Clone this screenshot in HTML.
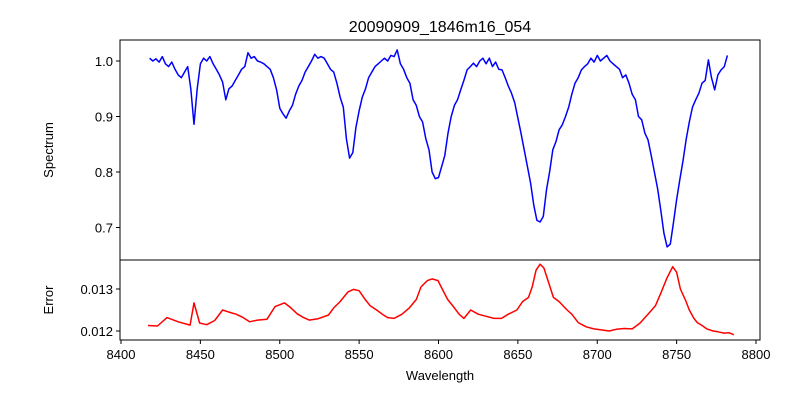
<!DOCTYPE html>
<html><head><meta charset="utf-8">
<style>
body{margin:0;background:#fff;}
svg{display:block;font-family:"Liberation Sans","DejaVu Sans",sans-serif;}
</style></head>
<body>
<svg id="chart" width="800" height="400" viewBox="0 0 800 400">
  <rect width="800" height="400" fill="#fff"/>
  <text x="440" y="32" font-size="16" text-anchor="middle">20090909_1846m16_054</text>
  <g id="gtop"></g>
  <g id="gbot"></g>
  <text x="440" y="380" font-size="13" text-anchor="middle">Wavelength</text>
  <text x="0" y="0" font-size="13" text-anchor="middle" transform="translate(53,150) rotate(-90)">Spectrum</text>
  <text x="0" y="0" font-size="13" text-anchor="middle" transform="translate(53,300) rotate(-90)">Error</text>
</svg>
<script>
const specWave = [8418,8420,8422,8424,8426,8428,8430,8432,8434,8436,8438,8440,8442,8444,8446,8448,8450,8452,8454,8456,8458,8460,8462,8464,8466,8468,8470,8472,8474,8476,8478,8480,8482,8484,8486,8488,8490,8492,8494,8496,8498,8500,8502,8504,8506,8508,8510,8512,8514,8516,8518,8520,8522,8524,8526,8528,8530,8532,8534,8536,8538,8540,8542,8544,8546,8548,8550,8552,8554,8556,8558,8560,8562,8564,8566,8568,8570,8572,8574,8576,8578,8580,8582,8584,8586,8588,8590,8592,8594,8596,8598,8600,8602,8604,8606,8608,8610,8612,8614,8616,8618,8620,8622,8624,8626,8628,8630,8632,8634,8636,8638,8640,8642,8644,8646,8648,8650,8652,8654,8656,8658,8660,8662,8664,8666,8668,8670,8672,8674,8676,8678,8680,8682,8684,8686,8688,8690,8692,8694,8696,8698,8700,8702,8704,8706,8708,8710,8712,8714,8716,8718,8720,8722,8724,8726,8728,8730,8732,8734,8736,8738,8740,8742,8744,8746,8748,8750,8752,8754,8756,8758,8760,8762,8764,8766,8768,8770,8772,8774,8776,8778,8780,8782,8784,8785];
const specFlux = [1.005,1.0,1.004,0.998,1.008,0.995,0.99,0.998,0.985,0.975,0.97,0.98,0.99,0.95,0.886,0.95,0.995,1.005,1.0,1.008,0.995,0.985,0.975,0.962,0.93,0.95,0.955,0.965,0.975,0.985,0.99,1.015,1.005,1.008,1.0,0.998,0.995,0.99,0.985,0.97,0.948,0.915,0.905,0.897,0.91,0.92,0.94,0.955,0.965,0.98,0.99,1.0,1.012,1.005,1.008,1.005,0.995,0.985,0.98,0.96,0.935,0.917,0.86,0.825,0.835,0.88,0.91,0.935,0.95,0.97,0.98,0.99,0.995,1.0,1.005,1.0,1.01,1.008,1.02,0.995,0.985,0.97,0.96,0.93,0.92,0.9,0.89,0.86,0.84,0.8,0.788,0.79,0.81,0.83,0.87,0.9,0.92,0.93,0.948,0.965,0.984,0.99,0.996,0.99,1.0,1.005,0.995,1.005,0.99,0.998,0.985,0.984,0.97,0.955,0.942,0.925,0.897,0.87,0.84,0.81,0.78,0.74,0.713,0.71,0.72,0.768,0.8,0.84,0.855,0.876,0.885,0.9,0.917,0.94,0.96,0.97,0.984,0.99,0.995,1.005,0.998,1.01,1.0,1.005,1.01,1.0,0.995,0.99,0.985,0.97,0.975,0.96,0.94,0.93,0.9,0.894,0.87,0.858,0.83,0.8,0.77,0.731,0.69,0.665,0.67,0.708,0.75,0.786,0.82,0.858,0.89,0.917,0.93,0.942,0.96,0.965,1.002,0.97,0.948,0.975,0.984,0.99,1.01];
const errWave = [8417,8423,8429,8436,8443.5,8446,8449.5,8454,8459,8464,8468,8472.5,8477,8481,8486,8492,8497,8503,8507,8511,8515,8518.6,8524,8530.7,8534,8538,8543,8546.4,8550,8554,8557,8561,8564.6,8568,8572,8577,8581.6,8586,8589,8593,8596,8599.7,8603,8605.8,8610,8613,8616,8620.3,8625,8630,8635,8639.7,8644,8649.4,8653,8656.7,8659,8661.5,8664,8666.4,8669,8672.4,8676,8681,8684,8688,8693,8697.9,8702,8707.5,8712,8717,8722,8727,8732,8736.6,8740,8743.9,8747.5,8750,8752.4,8756,8758,8760.9,8763,8765.7,8769,8773,8776,8780,8783,8786];
const errVal = [0.01213,0.01212,0.01232,0.01222,0.01214,0.01267,0.01219,0.01215,0.01225,0.0125,0.01245,0.0124,0.01232,0.01222,0.01226,0.01228,0.01258,0.01267,0.01255,0.01241,0.01232,0.01226,0.01229,0.01238,0.01255,0.0127,0.01293,0.01299,0.01296,0.01274,0.0126,0.0125,0.0124,0.01232,0.0123,0.0124,0.01255,0.01275,0.01305,0.0132,0.01324,0.0132,0.01295,0.01275,0.01255,0.0124,0.0123,0.0125,0.0124,0.01235,0.0123,0.0123,0.0124,0.0125,0.0127,0.0128,0.01305,0.01345,0.01359,0.0135,0.0132,0.0128,0.0127,0.0125,0.0124,0.0122,0.0121,0.01205,0.01203,0.012,0.01204,0.01206,0.01205,0.01219,0.0124,0.0126,0.0129,0.01326,0.01353,0.0134,0.013,0.0127,0.0125,0.0123,0.0122,0.01214,0.01205,0.012,0.01198,0.01195,0.01196,0.01191];
const xTicks = [8400,8450,8500,8550,8600,8650,8700,8750,8800];
const specTicks = [0.7,0.8,0.9,1.0];
const errTicks = [0.012,0.013];
const errTickLabels = ["0.012","0.013"];

const NS = "http://www.w3.org/2000/svg";
const L = 120, R = 760;
const xs = w => 121 + (w - 8400) * 1.5875;
const ys = v => 61 + (1.0 - v) * 555;
const ye = v => 289 + (0.013 - v) * 42000;
function mk(tag, attrs, parent){ const e = document.createElementNS(NS, tag); for (const k in attrs) e.setAttribute(k, attrs[k]); parent.appendChild(e); return e; }
const gTop = document.getElementById('gtop'), gBot = document.getElementById('gbot');

const d = specWave.map((w,i)=>(i?'L':'M')+xs(w).toFixed(1)+','+ys(specFlux[i]).toFixed(1)).join('');
const sp = mk('path',{d:d,fill:'none',stroke:'#0000ff','stroke-width':1.5,'stroke-linejoin':'round'},gTop);


const d2 = errWave.map((w,i)=>(i?'L':'M')+xs(w).toFixed(1)+','+ye(errVal[i]).toFixed(1)).join('');
const ep = mk('path',{d:d2,fill:'none',stroke:'#ff0000','stroke-width':1.5,'stroke-linejoin':'round'},gBot);



const f1 = mk('rect',{x:L,y:40,width:R-L,height:220,fill:'none',stroke:'#000','stroke-width':1},gTop);


const f2 = mk('rect',{x:L,y:260,width:R-L,height:80,fill:'none',stroke:'#000','stroke-width':1},gBot);



xTicks.forEach(t=>{
  const x = xs(t);
  const tk = mk('line',{x1:x,x2:x,y1:340,y2:344,stroke:'#000'},gBot);
  
  
  const tx = mk('text',{x:x,y:359,'font-size':13,'text-anchor':'middle'},gBot);
  tx.textContent = t;
  
  
});
specTicks.forEach(t=>{
  const y = ys(t);
  const tk = mk('line',{x1:L-4,x2:L,y1:y,y2:y,stroke:'#000'},gTop);
  
  
  const tx = mk('text',{x:L-7,y:y+5,'font-size':13,'text-anchor':'end'},gTop);
  tx.textContent = t.toFixed(1);
  
  
});
errTicks.forEach((t,i)=>{
  const y = ye(t);
  const tk = mk('line',{x1:L-4,x2:L,y1:y,y2:y,stroke:'#000'},gBot);
  
  
  const tx = mk('text',{x:L-7,y:y+5,'font-size':13,'text-anchor':'end'},gBot);
  tx.textContent = errTickLabels[i];
  
  
});
</script>
</body></html>
